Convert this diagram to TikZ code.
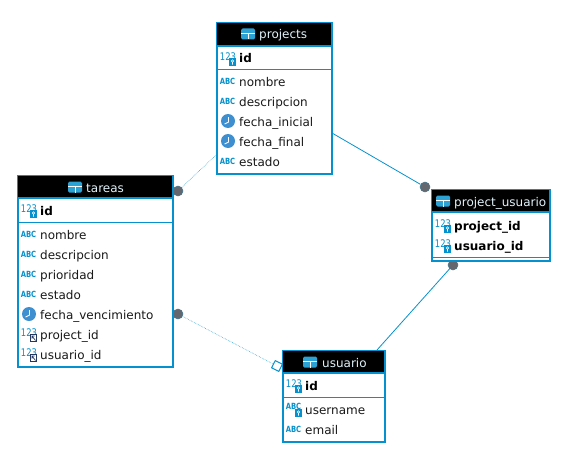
\documentclass[tikz,border=0pt]{standalone}
\usepackage{fontspec}
\setmainfont{DejaVu Sans}
\newfontfamily\iconfont[FakeStretch=0.8]{DejaVu Sans}
\definecolor{B4}{RGB}{5,145,205}
\definecolor{K4}{RGB}{61,143,208}
\definecolor{D4}{RGB}{100,104,110}
\definecolor{F4}{RGB}{35,55,95}
\tikzset{
  tablebox/.style={draw=B4, line width=2pt, fill=white, inner sep=0pt, anchor=north west},
  headbox/.style={fill=black, inner sep=0pt, anchor=north west},
  titletext/.style={text=white!88!B4, inner sep=0pt, anchor=west, font=\fontsize{12}{14}\selectfont, text height=13pt, text depth=3pt},
  rowtext/.style={inner sep=0pt, anchor=west, text=black!90, font=\fontsize{12}{14}\selectfont, text height=13pt, text depth=3pt},
  keytext/.style={rowtext, text=black, font=\fontsize{12}{14}\selectfont\bfseries},
  abcmark/.style={inner sep=0pt, text=B4, font=\iconfont\fontsize{8.5}{9}\selectfont\bfseries},
  nummark/.style={inner sep=0pt, text=B4, font=\iconfont\fontsize{10.5}{11}\selectfont},
  enddot/.style={circle, fill=D4, draw=B4!35!D4, line width=0.5pt, minimum size=10pt, inner sep=0pt},
  endopen/.style={rectangle, rotate=-27, fill=white, draw=B4, line width=1pt, minimum size=8pt, inner sep=0pt},
  rel/.style={draw=B4, line width=0.8pt},
  reldot/.style={draw=B4!80!white, line width=0.6pt, densely dotted},
}
% table icon at (x,y)
\newcommand{\tableicon}[2]{
  \fill[B4!85!white, rounded corners=1.5pt] (#1-7,#2-5.5) rectangle (#1+7,#2+5.5);
  \draw[white, line width=0.8pt] (#1-7,#2-0.5)--(#1+7,#2-0.5);
  \draw[white, line width=0.8pt] (#1,#2-0.5)--(#1,#2+5.5);
}
\newcommand{\clockicon}[2]{
  \fill[K4] (#1,#2) circle (7);
  \draw[white, line width=0.9pt] (#1+0.5,#2-4)--(#1+0.5,#2+1)--(#1-3.5,#2+3);
}
% small key on a blue badge
\newcommand{\keybadge}[2]{
  \fill[B4] (#1+2,#2) rectangle (#1+9,#2+8);
  \draw[white, line width=0.6pt] (#1+5.5,#2+3) circle (1.3) (#1+5.5,#2+4.3)--(#1+5.5,#2+6.5);
}
% name, x, y
\newcommand{\numicon}[3]{
  \node[nummark] (#1) at (#2+1,#3-1) {123};
  \keybadge{#2}{#3}
}
\newcommand{\fkicon}[3]{
  \node[nummark] (#1) at (#2+1,#3-1) {123};
  \draw[F4, fill=white, line width=0.9pt] (#2+2.5,#3+0.5) rectangle (#2+8.5,#3+7.5);
  \draw[F4, line width=0.7pt] (#2+4,#3+2) -- (#2+7.5,#3+6.5) (#2+4,#3+4.5) -- (#2+4,#3+2) -- (#2+6.5,#3+2);
}
\begin{document}
\begin{tikzpicture}[x=1pt, y=-1pt]
  \useasboundingbox (0,0) rectangle (564,452);
  % end points on the tables
  \coordinate (projectsL) at (216,155);
  \coordinate (projectsR) at (332,133);
  \coordinate (usuarioT) at (377,350);
  % ends of the relations
  \node[enddot] (dotA) at (178,191) {};
  \node[enddot] (dotB) at (425,187) {};
  \node[enddot] (dotC) at (453,265) {};
  \node[enddot] (dotD) at (178,314) {};
  \node[endopen] (openD) at (277,366) {};
  \draw[reldot] (projectsL)--(dotA);
  \draw[rel] (projectsR)--(dotB);
  \draw[rel] (usuarioT)--(dotC);
  \draw[reldot] (dotD)--(openD);

  % projects
  \node[tablebox, minimum width=115pt, minimum height=151pt] (projects) at (216,22) {};
  \node[headbox, minimum width=114pt, minimum height=24pt] (projectsH) at (217,22.5) {};
  \tableicon{248}{34}
  \node[titletext] (projectsT) at (259,34) {projects};
  \draw[B4, line width=1.5pt] (217,46)--(332,46);
  \numicon{projectsN0}{227}{58}
  \node[keytext] (projects0) at (239,58) {id};
  \draw[B4, line width=0.8pt] (217,69)--(332,69);
  \node[abcmark] (projectsN1) at (227.5,81) {ABC};
  \node[rowtext] (projects1) at (239,81) {nombre};
  \node[abcmark] (projectsN2) at (227.5,101) {ABC};
  \node[rowtext] (projects2) at (239,101) {descripcion};
  \clockicon{228}{121}
  \node[rowtext] (projects3) at (239,121) {fecha\_inicial};
  \clockicon{228}{141}
  \node[rowtext] (projects4) at (239,141) {fecha\_final};
  \node[abcmark] (projectsN5) at (227.5,161) {ABC};
  \node[rowtext] (projects5) at (239,161) {estado};

  % tareas
  \node[tablebox, minimum width=155pt, minimum height=191pt] (tareas) at (17,175) {};
  \node[headbox, minimum width=154pt, minimum height=23pt] (tareasH) at (18,175.5) {};
  \tableicon{75}{187}
  \node[titletext] (tareasT) at (86,187) {tareas};
  \draw[B4, line width=1.5pt] (18,198)--(173,198);
  \numicon{tareasN0}{28}{210}
  \node[keytext] (tareas0) at (40,210) {id};
  \draw[B4, line width=0.8pt] (18,222)--(173,222);
  \node[abcmark] (tareasN1) at (28.5,234) {ABC};
  \node[rowtext] (tareas1) at (40,234) {nombre};
  \node[abcmark] (tareasN2) at (28.5,254) {ABC};
  \node[rowtext] (tareas2) at (40,254) {descripcion};
  \node[abcmark] (tareasN3) at (28.5,274) {ABC};
  \node[rowtext] (tareas3) at (40,274) {prioridad};
  \node[abcmark] (tareasN4) at (28.5,294) {ABC};
  \node[rowtext] (tareas4) at (40,294) {estado};
  \clockicon{29}{314}
  \node[rowtext] (tareas5) at (40,314) {fecha\_vencimiento};
  \fkicon{tareasN6}{28}{334}
  \node[rowtext] (tareas6) at (40,334) {project\_id};
  \fkicon{tareasN7}{28}{354}
  \node[rowtext] (tareas7) at (40,354) {usuario\_id};

  % usuario
  \node[tablebox, minimum width=102pt, minimum height=91pt] (usuario) at (282,350) {};
  \node[headbox, minimum width=101pt, minimum height=23pt] (usuarioH) at (283,350.5) {};
  \tableicon{310}{362}
  \node[titletext] (usuarioT) at (322,362) {usuario};
  \draw[B4, line width=1.5pt] (283,373)--(385,373);
  \numicon{usuarioN0}{293}{385}
  \node[keytext] (usuario0) at (305,385) {id};
  \draw[B4, line width=0.8pt] (283,397)--(385,397);
  \node[abcmark] (usuarioN1) at (293.5,406) {ABC};
  \keybadge{293}{409}
  \node[rowtext] (usuario1) at (305,409) {username};
  \node[abcmark] (usuarioN2) at (293.5,429) {ABC};
  \node[rowtext] (usuario2) at (305,429) {email};

  % project_usuario
  \node[tablebox, minimum width=118pt, minimum height=71pt] (projectUsuario) at (431,189) {};
  \node[headbox, minimum width=117pt, minimum height=23pt] (projectUsuarioH) at (432,189.5) {};
  \tableicon{443}{201}
  \node[titletext] (projectUsuarioT) at (454,201) {project\_usuario};
  \draw[B4, line width=1.5pt] (432,212)--(550,212);
  \numicon{projectUsuarioN0}{442}{225}
  \node[keytext] (projectUsuario0) at (454,225) {project\_id};
  \numicon{projectUsuarioN1}{442}{245}
  \node[keytext] (projectUsuario1) at (454,245) {usuario\_id};
  \draw[B4, line width=0.8pt] (432,257)--(550,257);
\end{tikzpicture}
\end{document}
